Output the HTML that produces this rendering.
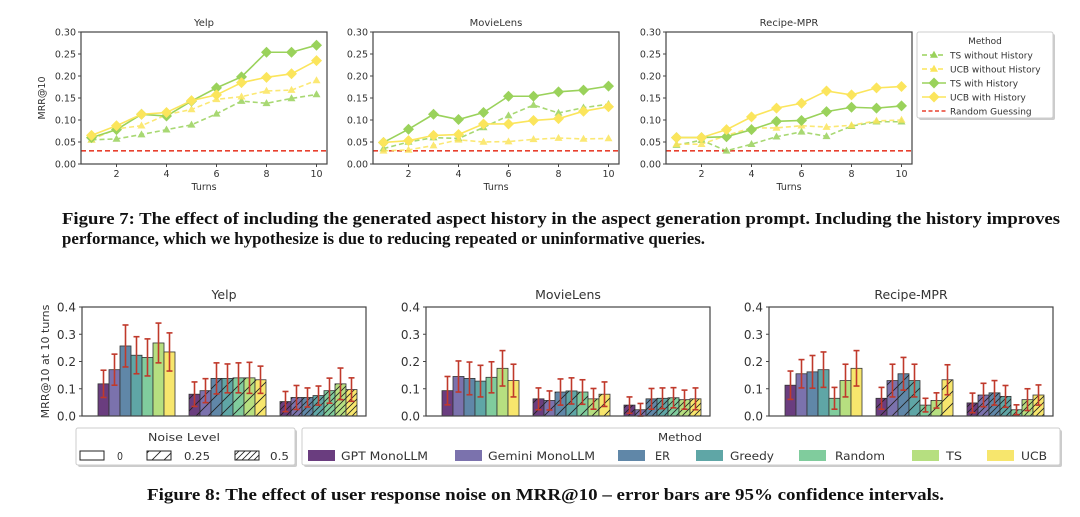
<!DOCTYPE html>
<html><head><meta charset="utf-8"><style>
body{margin:0;background:#fff;width:1080px;height:517px;overflow:hidden}
svg{display:block;font-family:"DejaVu Sans","Liberation Sans",sans-serif}
.cap{font-family:"Liberation Serif",serif;font-weight:bold;font-size:17px;fill:#111}
</style></head><body>
<svg id="fig" width="1080" height="517" viewBox="0 0 1080 517" xmlns="http://www.w3.org/2000/svg">
<defs>
<pattern id="h1" patternUnits="userSpaceOnUse" width="12" height="12"><path d="M-3,15 L15,-3 M-3,3 L3,-3 M9,15 L15,9" stroke="#222" stroke-width="0.9" fill="none"/></pattern>
<pattern id="h2" patternUnits="userSpaceOnUse" width="6" height="6"><path d="M-2,8 L8,-2 M-2,2 L2,-2 M4,8 L8,4" stroke="#222" stroke-width="0.8" fill="none"/></pattern>
</defs>
<text class="cap" x="62" y="224" textLength="998" lengthAdjust="spacingAndGlyphs">Figure 7: The effect of including the generated aspect history in the aspect generation prompt. Including the history improves</text>
<text class="cap" x="62" y="244" textLength="643" lengthAdjust="spacingAndGlyphs">performance, which we hypothesize is due to reducing repeated or uninformative queries.</text>
<text class="cap" x="147" y="500" textLength="797" lengthAdjust="spacingAndGlyphs">Figure 8: The effect of user response noise on MRR@10 – error bars are 95% confidence intervals.</text>
<g id="topcharts"></g><g id="botcharts"></g>
</svg>
<script>
// ---- Figure 7 data ----
const turns = [1,2,3,4,5,6,7,8,9,10];
const lineYTicks = [0,0.05,0.10,0.15,0.20,0.25,0.30];
const lineXTicks = [2,4,6,8,10];
const lineDatasets = ["Yelp","MovieLens","Recipe-MPR"];
const yelpTsNo   = [.055,.057,.067,.078,.089,.114,.143,.138,.149,.158];
const yelpUcbNo  = [.055,.080,.087,.112,.124,.147,.153,.166,.168,.190];
const yelpTsH    = [.060,.078,.113,.109,.143,.173,.198,.254,.254,.270];
const yelpUcbH   = [.065,.087,.113,.117,.144,.157,.185,.197,.205,.235];
const mlTsNo     = [.035,.050,.060,.058,.083,.110,.134,.116,.128,.136];
const mlUcbNo    = [.030,.032,.042,.055,.050,.051,.056,.059,.057,.058];
const mlTsH      = [.049,.079,.113,.101,.117,.154,.154,.164,.168,.177];
const mlUcbH     = [.049,.053,.065,.067,.091,.091,.099,.103,.120,.130];
const rcTsNo     = [.043,.054,.030,.045,.062,.073,.063,.086,.096,.096];
const rcUcbNo    = [.045,.045,.065,.082,.082,.087,.084,.088,.098,.100];
const rcTsH      = [.060,.060,.062,.078,.097,.099,.119,.129,.127,.132];
const rcUcbH     = [.060,.060,.078,.107,.127,.138,.166,.157,.173,.176];
const randomGuess = 0.03;
// ---- Figure 8 data ----
const methods = ["GPT MonoLLM","Gemini MonoLLM","ER","Greedy","Random","TS","UCB"];
const noiseLevels = ["0","0.25","0.5"];
const barYTicks = [0.0,0.1,0.2,0.3,0.4];
const yelpBars = [[.118,.170,.257,.223,.215,.268,.235],[.080,.093,.138,.138,.140,.140,.133],[.053,.068,.068,.075,.093,.118,.097]];
const yelpErr  = [[.050,.057,.077,.068,.068,.073,.070],[.045,.044,.057,.053,.055,.057,.050],[.037,.044,.035,.035,.046,.058,.043]];
const mlBars   = [[.093,.145,.138,.128,.142,.175,.130],[.063,.057,.088,.092,.088,.063,.080],[.040,.023,.063,.065,.067,.060,.063]];
const mlErr    = [[.052,.057,.060,.058,.057,.065,.060],[.040,.035,.048,.048,.045,.038,.045],[.030,.023,.038,.038,.037,.035,.040]];
const rcBars   = [[.113,.155,.162,.170,.065,.130,.175],[.065,.130,.155,.130,.040,.057,.133],[.048,.077,.085,.072,.023,.060,.077]];
const rcErr    = [[.052,.052,.060,.065,.040,.060,.065],[.040,.060,.060,.060,.025,.028,.055],[.036,.043,.045,.040,.018,.040,.037]];

const NS="http://www.w3.org/2000/svg";
function mk(parent,tag,attrs,text){const e=document.createElementNS(NS,tag);for(const k in attrs)e.setAttribute(k,attrs[k]);if(text!==undefined)e.textContent=text;parent.appendChild(e);return e;}
const GREEN="#9ad25b", YEL="#fbe55c", RED="#e8402f", AX="#444", TXT="#333";

// ---------- line charts ----------
const topG=document.getElementById('topcharts');
const lineSeries=[[yelpTsNo,yelpUcbNo,yelpTsH,yelpUcbH],[mlTsNo,mlUcbNo,mlTsH,mlUcbH],[rcTsNo,rcUcbNo,rcTsH,rcUcbH]];
const lineLefts=[81,373,666];
const styles=[{c:GREEN,d:"5,3",m:"tri"},{c:YEL,d:"5,3",m:"tri"},{c:GREEN,d:"",m:"dia"},{c:YEL,d:"",m:"dia"}];
const seriesNames=["ts-without-history","ucb-without-history","ts-with-history","ucb-with-history"];
function marker(g,type,x,y,c){
  if(type==="tri") return mk(g,'path',{d:`M${x},${y-4.2} L${x+4},${y+2.8} L${x-4},${y+2.8}Z`,fill:c});
  return mk(g,'path',{d:`M${x},${y-5.5} L${x+5.5},${y} L${x},${y+5.5} L${x-5.5},${y}Z`,fill:c});
}
lineDatasets.forEach((name,i)=>{
  const L=lineLefts[i],W=246,T=32,B=164;
  const xs=t=>L+10.5+(t-1)*(W-21)/9;
  const ys=v=>B-(v/0.30)*(B-T);
  const g=mk(topG,'g',{});
  
  
  const tt=mk(g,'text',{x:L+W/2,y:26,'text-anchor':'middle','font-size':10,fill:TXT},name);
  
  
  lineYTicks.forEach(v=>{mk(g,'line',{x1:L-3,x2:L,y1:ys(v),y2:ys(v),stroke:AX});
    const t=mk(g,'text',{x:L-5,y:ys(v)+3.5,'text-anchor':'end','font-size':9.5,fill:TXT},v.toFixed(2));
    
    });
  lineXTicks.forEach(v=>{mk(g,'line',{x1:xs(v),x2:xs(v),y1:B,y2:B+3,stroke:AX});
    const t=mk(g,'text',{x:xs(v),y:B+13,'text-anchor':'middle','font-size':9.5,fill:TXT},v);
    
    });
  const xl=mk(g,'text',{x:L+W/2,y:190,'text-anchor':'middle','font-size':9.5,fill:TXT},'Turns');
  
  
  if(i===0){const yl=mk(g,'text',{x:0,y:0,transform:`translate(45,${(T+B)/2}) rotate(-90)`,'text-anchor':'middle','font-size':9.5,fill:TXT},'MRR@10');
    
    }
  const rg=mk(g,'line',{x1:L,x2:L+W,y1:ys(randomGuess),y2:ys(randomGuess),stroke:RED,'stroke-width':1.6,'stroke-dasharray':'5,3'});
  
  
  lineSeries[i].forEach((arr,s)=>{
    const st=styles[s];
    const sg=mk(g,'g',{opacity:st.d?0.85:1});
    
    
    mk(sg,'polyline',{points:arr.map((v,k)=>xs(turns[k])+','+ys(v)).join(' '),fill:'none',stroke:st.c,'stroke-width':1.6,'stroke-dasharray':st.d||'none'});
    arr.forEach((v,k)=>{const m=marker(sg,st.m,xs(turns[k]),ys(v),st.c);
      
      });
  });
  mk(g,'rect',{x:L,y:T,width:W,height:B-T,fill:'none',stroke:AX,'stroke-width':1.2});
});
// legend top
(function(){
  const g=mk(topG,'g',{});
  
  
  mk(g,'rect',{x:919,y:34,width:136,height:86,fill:'#ccc',rx:2});
  mk(g,'rect',{x:917,y:32,width:136,height:86,fill:'#fff',stroke:'#ccc',rx:2});
  mk(g,'text',{x:985,y:44,'text-anchor':'middle','font-size':9,fill:TXT},'Method');
  const labs=["TS without History","UCB without History","TS with History","UCB with History","Random Guessing"];
  labs.forEach((l,k)=>{const y=55+k*14;
    const c=k<4?styles[k].c:RED, d=k<4?styles[k].d:"4,2.5";
    const e=mk(g,'g',{});
    
    
    mk(e,'line',{x1:922,x2:946,y1:y,y2:y,stroke:c,'stroke-width':1.6,'stroke-dasharray':d||'none'});
    if(k<4) marker(e,styles[k].m,934,y,c);
    mk(e,'text',{x:950,y:y+3.5,'font-size':9,fill:TXT},l);});
})();

// ---------- bar charts ----------
const botG=document.getElementById('botcharts');
const COLORS=["#6a3d7f","#7b72ad","#6087a8","#5fa6a6","#80cc9d","#b6df80","#f7e66d"];
const barData=[[yelpBars,yelpErr],[mlBars,mlErr],[rcBars,rcErr]];
const barLefts=[82,426,769];
const hatches=[null,"url(#h1)","url(#h2)"];
lineDatasets.forEach((name,i)=>{
  const L=barLefts[i],W=284,T=307,B=416;
  const ys=v=>B-(v/0.4)*(B-T);
  const g=mk(botG,'g',{});
  
  
  const tt=mk(g,'text',{x:L+W/2,y:299,'text-anchor':'middle','font-size':12.5,fill:TXT},name);
  
  
  barYTicks.forEach(v=>{mk(g,'line',{x1:L-3,x2:L,y1:ys(v),y2:ys(v),stroke:AX});
    const t=mk(g,'text',{x:L-6,y:ys(v)+4.5,'text-anchor':'end','font-size':12,fill:TXT},v.toFixed(1));
    
    });
  if(i===0){const yl=mk(g,'text',{x:0,y:0,transform:`translate(49,${(T+B)/2}) rotate(-90)`,'text-anchor':'middle','font-size':11,fill:TXT},'MRR@10 at 10 turns');
    
    }
  const bw=11, gap=91;
  const vals=barData[i][0], errs=barData[i][1];
  vals.forEach((grp,n)=>{
    const cx=L+54.5+n*gap;
    grp.forEach((v,m)=>{
      const x=cx+(m-3.5)*bw;
      const r=mk(g,'rect',{x:x,y:ys(v),width:bw,height:B-ys(v),fill:COLORS[m],stroke:'#333','stroke-width':0.8});
      
      
      if(hatches[n]) mk(g,'rect',{x:x,y:ys(v),width:bw,height:B-ys(v),fill:hatches[n]});
    });
    grp.forEach((v,m)=>{
      const x=cx+(m-3.5)*bw+bw/2, e=errs[n][m];
      const eg=mk(g,'g',{stroke:'#c0392b','stroke-width':1.6});
      
      
      mk(eg,'line',{x1:x,x2:x,y1:ys(v+e),y2:ys(Math.max(0,v-e))});
      mk(eg,'line',{x1:x-3,x2:x+3,y1:ys(v+e),y2:ys(v+e)});
      mk(eg,'line',{x1:x-3,x2:x+3,y1:ys(Math.max(0,v-e)),y2:ys(Math.max(0,v-e))});
    });
  });
  mk(g,'rect',{x:L,y:T,width:W,height:B-T,fill:'none',stroke:AX,'stroke-width':1.2});
});
// noise legend
(function(){
  const g=mk(botG,'g',{});
  
  
  mk(g,'rect',{x:78,y:430,width:219,height:37,fill:'#ccc',rx:2});
  mk(g,'rect',{x:76,y:428,width:219,height:37,fill:'#fff',stroke:'#ccc',rx:2});
  mk(g,'text',{x:148,y:441,'font-size':11,fill:TXT,textLength:72,lengthAdjust:'spacingAndGlyphs'},'Noise Level');
  const sx=[80,147,235], tx=[117,184,270], tw=[6,26,19];
  noiseLevels.forEach((l,k)=>{
    const e=mk(g,'g',{});
    
    
    mk(e,'rect',{x:sx[k],y:451,width:24,height:9,fill:'#fff',stroke:'#222'});
    if(hatches[k]) mk(e,'rect',{x:sx[k],y:451,width:24,height:9,fill:hatches[k]});
    mk(e,'text',{x:tx[k],y:460,'font-size':11,fill:TXT,textLength:tw[k],lengthAdjust:'spacingAndGlyphs'},l);});
})();
// method legend
(function(){
  const g=mk(botG,'g',{});
  
  
  mk(g,'rect',{x:304,y:430,width:758,height:37,fill:'#ccc',rx:2});
  mk(g,'rect',{x:302,y:428,width:758,height:37,fill:'#fff',stroke:'#ccc',rx:2});
  mk(g,'text',{x:680,y:441,'text-anchor':'middle','font-size':11,fill:TXT,textLength:44,lengthAdjust:'spacingAndGlyphs'},'Method');
  const sx=[308,455,618,696,799,912,987], tx=[341,488,655,730,835,946,1021], tw=[87,107,15,44,50,16,26];
  methods.forEach((l,k)=>{
    const e=mk(g,'g',{});
    
    
    mk(e,'rect',{x:sx[k],y:450,width:27,height:11,fill:COLORS[k]});
    mk(e,'text',{x:tx[k],y:460,'font-size':11.5,fill:TXT,textLength:tw[k],lengthAdjust:'spacingAndGlyphs'},l);});
})();
</script>
</body></html>
